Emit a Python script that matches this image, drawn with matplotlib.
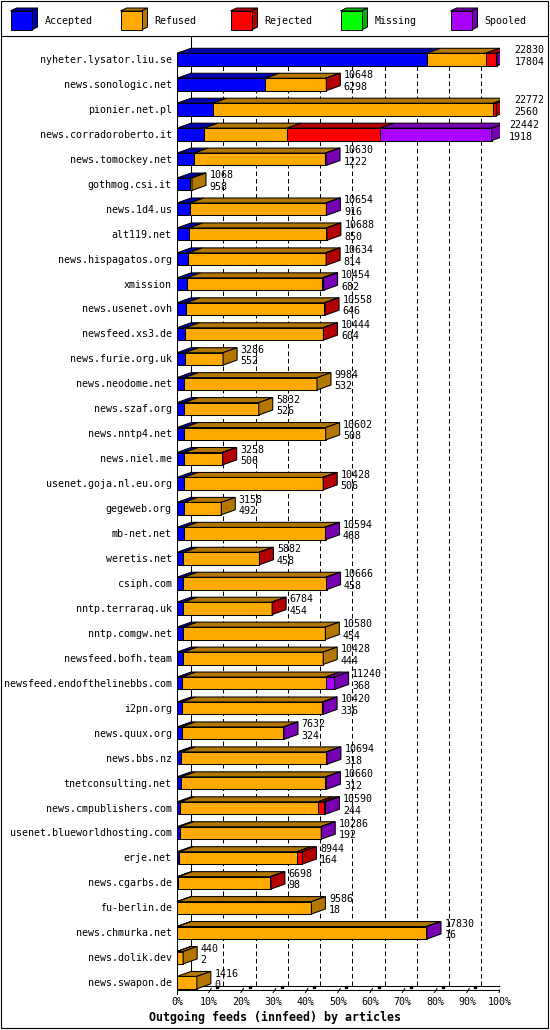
import matplotlib
matplotlib.use("Agg")
import matplotlib.pyplot as plt
from matplotlib.patches import Polygon, Rectangle

# ---- data ----
hosts = [
    "nyheter.lysator.liu.se", "news.sonologic.net", "pionier.net.pl",
    "news.corradoroberto.it", "news.tomockey.net", "gothmog.csi.it",
    "news.1d4.us", "alt119.net", "news.hispagatos.org", "xmission",
    "news.usenet.ovh", "newsfeed.xs3.de", "news.furie.org.uk",
    "news.neodome.net", "news.szaf.org", "news.nntp4.net", "news.niel.me",
    "usenet.goja.nl.eu.org", "gegeweb.org", "mb-net.net", "weretis.net",
    "csiph.com", "nntp.terraraq.uk", "nntp.comgw.net", "newsfeed.bofh.team",
    "newsfeed.endofthelinebbs.com", "i2pn.org", "news.quux.org",
    "news.bbs.nz", "tnetconsulting.net", "news.cmpublishers.com",
    "usenet.blueworldhosting.com", "erje.net", "news.cgarbs.de",
    "fu-berlin.de", "news.chmurka.net", "news.dolik.dev", "news.swapon.de",
]
totals = [22830, 10648, 22772, 22442, 10630, 1068, 10654, 10688, 10634, 10454,
          10558, 10444, 3286, 9984, 5832, 10602, 3258, 10428, 3158, 10594,
          5882, 10666, 6784, 10580, 10428, 11240, 10420, 7632, 10694, 10660,
          10590, 10286, 8944, 6698, 9586, 17830, 440, 1416]
accepted = [17804, 6298, 2560, 1918, 1222, 958, 916, 850, 814, 682,
            646, 604, 552, 532, 526, 508, 506, 506, 492, 468,
            458, 458, 454, 454, 444, 368, 336, 324, 318, 312,
            244, 192, 164, 98, 18, 16, 2, 0]
refused = [4211, 4310, 19980, 5927, 9358, 110, 9693, 9798, 9780, 9672,
           9872, 9800, 2734, 9452, 5306, 10094, 2712, 9882, 2666, 10066,
           5384, 10163, 6290, 10126, 9984, 10234, 10039, 7268, 10331, 10278,
           9809, 10049, 8383, 6560, 9568, 17764, 438, 1416]
rejected = [752, 40, 232, 6622, 0, 0, 0, 40, 40, 0,
            40, 40, 0, 0, 0, 0, 40, 40, 0, 0,
            40, 0, 40, 0, 0, 0, 0, 0, 0, 0,
            397, 0, 397, 40, 0, 0, 0, 0]
missing = [0, 0, 0, 0, 0, 0, 0, 0, 0, 0,
           0, 0, 0, 0, 0, 0, 0, 0, 0, 0,
           0, 0, 0, 0, 0, 0, 0, 0, 0, 0,
           0, 0, 0, 0, 0, 0, 0, 0]
spooled = [63, 0, 0, 7975, 50, 0, 45, 0, 0, 100,
           0, 0, 0, 0, 0, 0, 0, 0, 0, 60,
           0, 45, 0, 0, 0, 638, 45, 40, 45, 70,
           140, 45, 0, 0, 0, 50, 0, 0]

series_names = ["Accepted", "Refused", "Rejected", "Missing", "Spooled"]
series_data = [accepted, refused, rejected, missing, spooled]
front_cols = ["#0000ff", "#ffaa00", "#ff0000", "#00ff00", "#aa00ff"]
dark_cols = ["#0000b3", "#b37700", "#b30000", "#00b300", "#7700b3"]

FULL = 23000          # article count at the 100% mark
TITLE = "Outgoing feeds (innfeed) by articles"

# ---- layout in pixels ----
W, H, DPI = 550, 1030, 100
X0, X100 = 177, 499.5
ROW0, ROWSTEP = 59.5, 24.95
TOP_PX, BOT_PX = 36, 1000
MONO = "DejaVu Sans Mono"
FS = 7.2

fig = plt.figure(figsize=(W / DPI, H / DPI), dpi=DPI)
fig.patch.set_facecolor("white")

# background axes in pixel units: frame, legend, title
bg = fig.add_axes([0, 0, 1, 1])
bg.set_xlim(0, W)
bg.set_ylim(H, 0)
bg.axis("off")
bg.add_patch(Rectangle((1, 1), W - 3, H - 3, fill=False, ec="black", lw=0.8))
bg.plot([1, W - 2], [35.5, 35.5], color="black", lw=0.8)

# legend cubes
for k, (name, fc, dc) in enumerate(zip(series_names, front_cols, dark_cols)):
    lx = 10.5 + 110 * k
    fw, fh, d, dv = 21, 19, 6, 3
    ly = 11
    bg.add_patch(Polygon([(lx, ly), (lx + fw, ly), (lx + fw + d, ly - dv),
                          (lx + d, ly - dv)], closed=True, fc=dc, ec="black", lw=0.7))
    bg.add_patch(Polygon([(lx + fw, ly), (lx + fw + d, ly - dv),
                          (lx + fw + d, ly + fh - dv), (lx + fw, ly + fh)],
                         closed=True, fc=dc, ec="black", lw=0.7))
    bg.add_patch(Rectangle((lx, ly), fw, fh, fc=fc, ec="black", lw=0.7))
    bg.text(lx + 34, 21, name, family=MONO, fontsize=FS, ha="left", va="center")

bg.text(W / 2, 1017, TITLE, family=MONO, fontsize=8.4, fontweight="bold",
        ha="center", va="center")

# main plot axes: x in articles, y in rows
ax = fig.add_axes([X0 / W, 1 - BOT_PX / H, (X100 - X0) / W, (BOT_PX - TOP_PX) / H])
ax.patch.set_visible(False)
ax.set_xlim(0, FULL)
ax.set_ylim((BOT_PX - ROW0) / ROWSTEP, (TOP_PX - ROW0) / ROWSTEP)
ax.axis("off")

ux = FULL / (X100 - X0)      # articles per pixel


def rowpx(py):
    return (py - ROW0) / ROWSTEP


uy = 1 / ROWSTEP
DX, DY, HALF = 14 * ux, 5 * uy, 6.2 * uy

lw = 0.75
# walls, floor and grid
ax.plot([DX, DX], [rowpx(36), rowpx(985.5)], color="black", lw=lw, zorder=1)
ax.plot([FULL + DX, FULL + DX], [rowpx(36), rowpx(985.5)], color="black", lw=lw, zorder=1)
ax.plot([0, 0], [rowpx(53), rowpx(993.5)], color="black", lw=lw, zorder=1)
ax.plot([DX, FULL + DX + 17 * ux], [rowpx(985.5), rowpx(985.5)], color="black", lw=lw, zorder=1)
ax.plot([0, FULL], [rowpx(990), rowpx(990)], color="black", lw=lw, zorder=1)
ax.plot([-15 * ux, DX], [rowpx(995), rowpx(985.5)], color="black", lw=lw, zorder=1)
ax.plot([FULL, FULL + DX], [rowpx(990), rowpx(985.5)], color="black", lw=lw, zorder=1)
for k in range(1, 10):
    gx = FULL * k / 10 + DX
    ax.plot([gx, gx], [rowpx(51), rowpx(985.5)], color="black", lw=lw,
            dashes=(4.3, 2.9), zorder=1)
    ax.plot([FULL * k / 10 + 8 * ux], [rowpx(986.5)], marker="s", ms=1.8,
            color="black", zorder=1)
for k in range(0, 11):
    tx = FULL * k / 10
    if k > 0:
        ax.plot([tx - 0.5 * ux, tx + 2 * ux], [rowpx(992.5), rowpx(988.5)],
                color="black", lw=lw, zorder=1)
    ax.text(tx, rowpx(1002), f"{k * 10}%", family=MONO, fontsize=FS,
            ha="center", va="center")

# bars
for i, host in enumerate(hosts):
    y_top, y_bot = i - HALF, i + HALF
    left = 0
    last = None
    for s, vals in enumerate(series_data):
        v = vals[i]
        if v <= 0:
            continue
        right = left + v
        ax.add_patch(Polygon([(left, y_top), (right, y_top), (right + DX, y_top - DY),
                              (left + DX, y_top - DY)], closed=True,
                             fc=dark_cols[s], ec="black", lw=lw, zorder=3))
        ax.add_patch(Rectangle((left, y_top), v, y_bot - y_top, fc=front_cols[s],
                               ec="black", lw=lw, zorder=3))
        left = right
        last = s
    if last is not None:
        ax.add_patch(Polygon([(left, y_top), (left + DX, y_top - DY),
                              (left + DX, y_bot - DY), (left, y_bot)], closed=True,
                             fc=dark_cols[last], ec="black", lw=lw, zorder=3))
    tx = left + DX + 3.5 * ux
    ax.text(tx, i - 9 * uy, str(totals[i]), family=MONO, fontsize=FS,
            ha="left", va="center", zorder=4)
    ax.text(tx, i + 2.5 * uy, str(accepted[i]), family=MONO, fontsize=FS,
            ha="left", va="center", zorder=4)
    ax.text(-5.3 * ux, i + 0.5 * uy, host, family=MONO, fontsize=FS,
            ha="right", va="center", zorder=4)

fig.savefig("out.png", dpi=DPI)
